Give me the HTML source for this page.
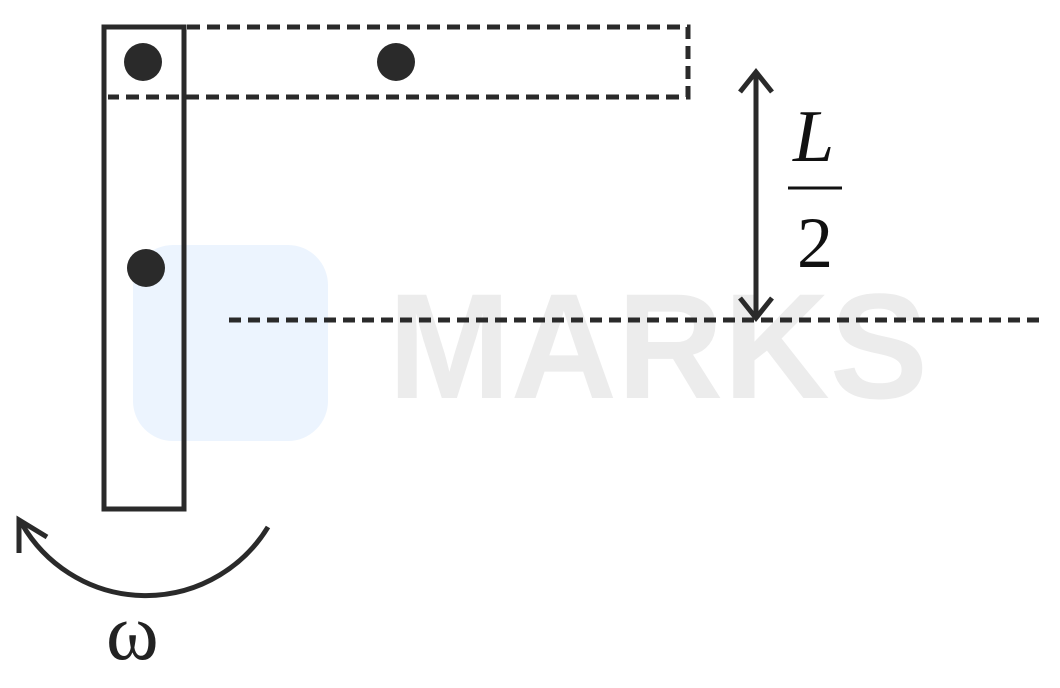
<!DOCTYPE html>
<html><head><style>html,body{margin:0;padding:0;background:#fff;}svg{display:block}</style></head>
<body>
<svg width="1060" height="688" viewBox="0 0 1060 688" xmlns="http://www.w3.org/2000/svg">
<rect x="133" y="245" width="195" height="196" rx="40" fill="#ecf4fe"/>
<text x="388" y="398" font-family="Liberation Sans, sans-serif" font-weight="bold" font-size="150" fill="#ececec" textLength="540" lengthAdjust="spacingAndGlyphs">MARKS</text>
<g stroke="#2a2a2a" stroke-width="5" fill="none">
<rect x="104" y="27" width="80" height="482"/>
<path d="M187 27 H688 V97 H108" stroke-dasharray="13 7"/>
<path d="M229 320 H1040" stroke-dasharray="12 7"/>
<path d="M756 72 V316"/>
<path d="M740 92 L756 72 L772 92"/>
<path d="M740 298 L756 318 L772 298"/>
<path d="M268 527 A143 143 0 0 1 22 524"/>
<path d="M19 553 V520 L47 537"/>
</g>
<line x1="788" y1="188" x2="842" y2="188" stroke="#111" stroke-width="3"/>
<ellipse cx="143" cy="62" rx="19" ry="19" fill="#2a2a2a"/>
<ellipse cx="396" cy="62" rx="19" ry="19" fill="#2a2a2a"/>
<ellipse cx="146" cy="268" rx="19" ry="19" fill="#2a2a2a"/>
<text x="793" y="161" font-family="Liberation Serif, serif" font-style="italic" font-size="74" fill="#111">L</text>
<text x="797" y="267" font-family="Liberation Serif, serif" font-size="72" fill="#111">2</text>
<text x="106" y="659" font-family="Liberation Serif, serif" font-size="80" fill="#222">ω</text>
</svg>
</body></html>
